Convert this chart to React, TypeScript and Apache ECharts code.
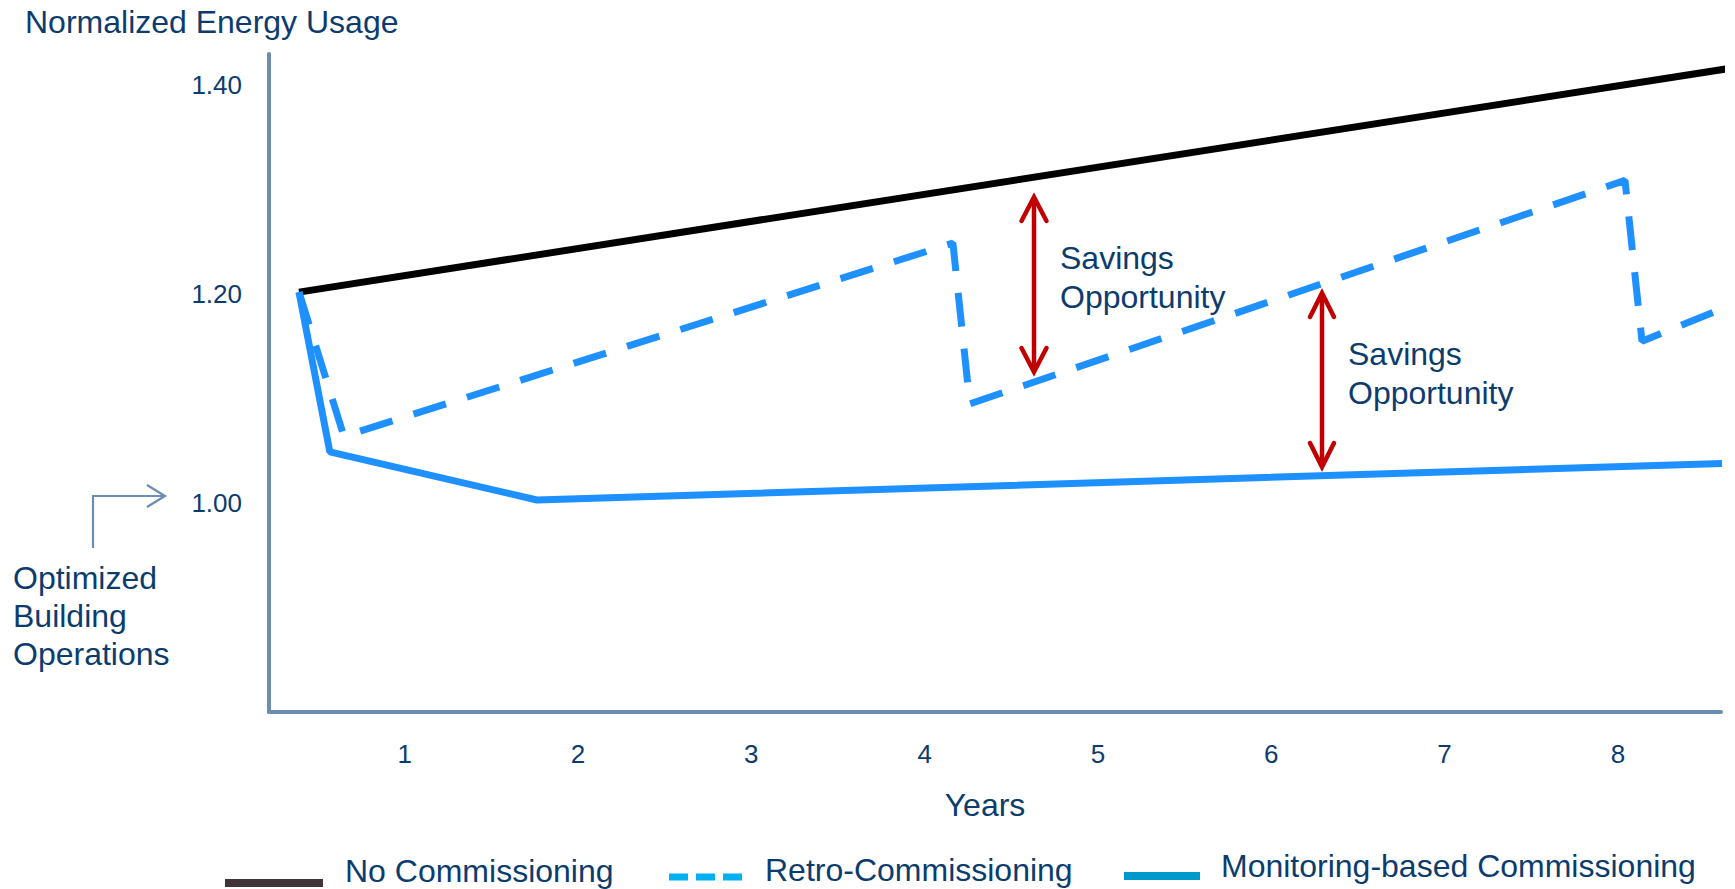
import React, { useEffect, useRef } from "react";
import * as echarts from "echarts";

// ---- data ----
const yearTicks = [1, 2, 3, 4, 5, 6, 7, 8];
const energyTicks = [1.0, 1.2, 1.4];
const seriesNames = ["No Commissioning", "Retro-Commissioning", "Monitoring-based Commissioning"];
// [year, normalized energy usage]
const noCommissioning = [
  [0.39, 1.202],
  [8.675, 1.417],
];
const retroCommissioning = [
  [0.39, 1.202],
  [0.649, 1.064],
  [4.163, 1.249],
  [4.261, 1.095],
  [8.041, 1.309],
  [8.139, 1.155],
  [8.6, 1.186],
];
const monitoringBased = [
  [0.39, 1.202],
  [0.568, 1.049],
  [1.763, 1.003],
  [8.601, 1.038],
];

const FONT = '"Liberation Sans", Arial, Helvetica, sans-serif';
const NAVY = "#0c3c6e";
const AXIS = "#6b8db3";
const RED = "#c00000";
const BLUE = "#1e90ff";

function arrow(x: number, yTop: number, yBot: number, hw: number, hh: number) {
  const st = { stroke: RED, lineWidth: 4.5, lineCap: "round", lineJoin: "miter", fill: null };
  return [
    { type: "line", shape: { x1: x, y1: yTop + 2, x2: x, y2: yBot - 2 }, style: { ...st, lineCap: "butt" }, silent: true },
    { type: "polyline", shape: { points: [[x - hw, yTop + hh], [x, yTop], [x + hw, yTop + hh]] }, style: st, silent: true },
    { type: "polyline", shape: { points: [[x - hw, yBot - hh], [x, yBot], [x + hw, yBot - hh]] }, style: st, silent: true },
  ];
}

function txt(x: number, y: number, text: string, size: number, lh: number) {
  return {
    type: "text",
    x,
    y,
    silent: true,
    style: { text, fill: NAVY, fontSize: size, fontFamily: FONT, align: "left", verticalAlign: "middle", lineHeight: lh },
  };
}

export default function App() {
  const ref = useRef<HTMLDivElement>(null);
  useEffect(() => {
    if (!ref.current) return;
    const chart = echarts.init(ref.current, undefined, { renderer: "svg" });
    const isTick = (v: number, list: number[]) => list.some((t) => Math.abs(t - v) < 1e-6);
    chart.setOption({
      animation: false,
      backgroundColor: "#ffffff",
      title: {
        text: "Normalized Energy Usage",
        left: 25,
        top: 6,
        padding: 0,
        textStyle: { color: NAVY, fontSize: 32, fontWeight: "normal", fontFamily: FONT, lineHeight: 32 },
      },
      grid: { left: 269, right: 14, top: 54, bottom: 177, containLabel: false, outerBoundsMode: "none" },
      xAxis: {
        type: "value",
        min: 0.217,
        max: 8.595,
        splitNumber: 8,
        minInterval: 1,
        maxInterval: 1,
        name: "Years",
        nameLocation: "middle",
        nameGap: 77,
        nameTextStyle: { color: NAVY, fontSize: 32, fontFamily: FONT, padding: [0, 20, 0, 0] },
        axisLine: { show: true, onZero: false, lineStyle: { color: AXIS, width: 4 } },
        axisTick: { show: false },
        splitLine: { show: false },
        axisLabel: {
          color: NAVY,
          fontSize: 26,
          fontFamily: FONT,
          margin: 29,
          showMinLabel: false,
          showMaxLabel: false,
          formatter: (v: number) => (isTick(v, yearTicks) ? String(Math.round(v)) : ""),
        },
      },
      yAxis: {
        type: "value",
        min: 0.8,
        max: 1.43,
        interval: 0.2,
        axisLine: { show: true, onZero: false, lineStyle: { color: AXIS, width: 4 } },
        axisTick: { show: false },
        splitLine: { show: false },
        axisLabel: {
          color: NAVY,
          fontSize: 26,
          fontFamily: FONT,
          margin: 27,
          formatter: (v: number) => (isTick(v, energyTicks) ? v.toFixed(2) : ""),
        },
      },
      series: [
        {
          name: seriesNames[0],
          type: "line",
          data: noCommissioning,
          showSymbol: false,
          clip: false,
          silent: true,
          lineStyle: { color: "#000000", width: 7 },
        },
        {
          name: seriesNames[1],
          type: "line",
          data: retroCommissioning,
          showSymbol: false,
          clip: false,
          silent: true,
          lineStyle: { color: BLUE, width: 7, type: [34, 22], cap: "butt" },
        },
        {
          name: seriesNames[2],
          type: "line",
          data: monitoringBased,
          showSymbol: false,
          clip: false,
          silent: true,
          lineStyle: { color: BLUE, width: 7 },
        },
      ],
      graphic: [
        // pointer to 1.00
        {
          type: "polyline",
          silent: true,
          shape: { points: [[93, 548], [93, 496], [163, 496]] },
          style: { stroke: AXIS, lineWidth: 2.2, fill: null },
        },
        {
          type: "polyline",
          silent: true,
          shape: { points: [[147, 485], [165, 496], [147, 507]] },
          style: { stroke: AXIS, lineWidth: 2.2, fill: null },
        },
        txt(13, 616, "Optimized\nBuilding\nOperations", 32, 38),
        ...arrow(1034, 197, 372, 12.5, 24),
        ...arrow(1322, 293, 467, 12, 24),
        txt(1060, 277.5, "Savings\nOpportunity", 32, 39),
        txt(1348, 373.5, "Savings\nOpportunity", 32, 39),
        // legend
        { type: "line", silent: true, shape: { x1: 225, y1: 883, x2: 323, y2: 883 }, style: { stroke: "#3f3438", lineWidth: 8 } },
        txt(345, 871, seriesNames[0], 32, 32),
        {
          type: "line",
          silent: true,
          shape: { x1: 669, y1: 877, x2: 744, y2: 877 },
          style: { stroke: "#00b0f0", lineWidth: 7, lineDash: [19, 8] },
        },
        txt(765, 870, seriesNames[1], 32, 32),
        { type: "line", silent: true, shape: { x1: 1124, y1: 876, x2: 1200, y2: 876 }, style: { stroke: "#0099cc", lineWidth: 8 } },
        txt(1221, 866, seriesNames[2], 32, 32),
      ],
    });
    return () => chart.dispose();
  }, []);
  return <div ref={ref} style={{ position: "fixed", left: 0, top: 0, width: 1735, height: 889 }} />;
}
